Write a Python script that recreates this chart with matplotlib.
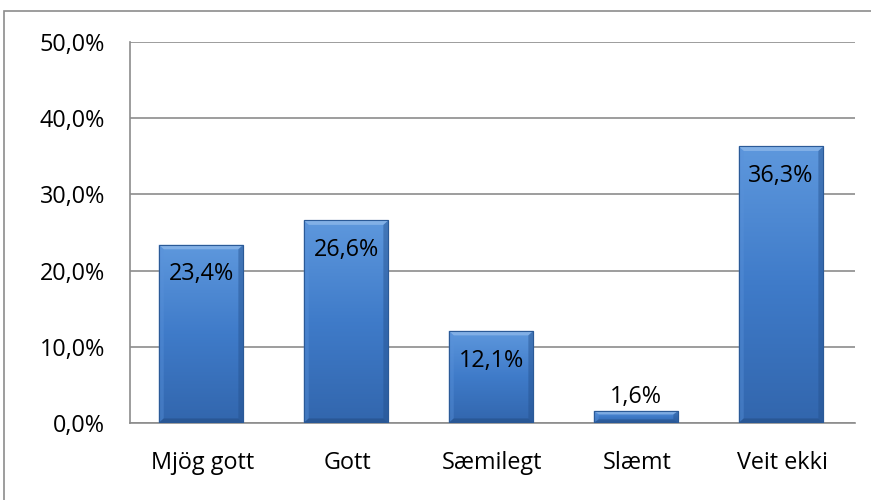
import numpy as np
import matplotlib
matplotlib.use("Agg")
import matplotlib.pyplot as plt
from matplotlib.patches import Rectangle, Polygon
from matplotlib.colors import LinearSegmentedColormap

# chart data
categories = ["Mjög gott", "Gott", "Sæmilegt", "Slæmt", "Veit ekki"]
values = [23.4, 26.6, 12.1, 1.6, 36.3]
yticks = [0, 10, 20, 30, 40, 50]

plt.rcParams['font.family'] = ['Open Sans', 'DejaVu Sans']
FS = 16.8

fig = plt.figure(figsize=(8.71, 5), dpi=100)
ax = fig.add_axes([130 / 871, 1 - 423 / 500, 725 / 871, 381 / 500])

# outer chart border
fig.patches.append(Rectangle((4 / 871, -0.01), 1.0, 1 - 11 / 500 + 0.01,
                             transform=fig.transFigure, fill=False,
                             edgecolor="#8c8c8c", linewidth=1.2))

x = np.arange(len(categories))
width = 0.585
bars = ax.bar(x - 0.01, values, width=width, color="#3f7ccb", edgecolor="#2b5a97",
              linewidth=0.8, zorder=3)

# gradient face + light bevel on each bar
cmap = LinearSegmentedColormap.from_list("bar", ["#5e98dd", "#3f7bc9", "#3266ad"])
grad = np.linspace(0, 1, 256).reshape(-1, 1)
for b in bars:
    x0, w, h = b.get_x(), b.get_width(), b.get_height()
    im = ax.imshow(grad, cmap=cmap, aspect="auto", extent=(x0, x0 + w, 0, h),
                   origin="upper", zorder=3.1)
    im.set_clip_path(b)
    bx = w * 0.06
    by = min(0.6, h * 0.3)
    ax.add_patch(Polygon([(x0, h), (x0 + w, h), (x0 + w - bx, h - by), (x0 + bx, h - by)],
                         closed=True, facecolor="#9cc2ee", edgecolor="none", alpha=0.6, zorder=3.2))
    ax.add_patch(Polygon([(x0, 0), (x0, h), (x0 + bx, h - by), (x0 + bx, by)],
                         closed=True, facecolor="#5a92da", edgecolor="none", alpha=0.4, zorder=3.2))
    ax.add_patch(Polygon([(x0 + w, 0), (x0 + w, h), (x0 + w - bx, h - by), (x0 + w - bx, by)],
                         closed=True, facecolor="#24508c", edgecolor="none", alpha=0.45, zorder=3.2))
    ax.add_patch(Polygon([(x0, 0), (x0 + w, 0), (x0 + w - bx, by), (x0 + bx, by)],
                         closed=True, facecolor="#1f4679", edgecolor="none", alpha=0.45, zorder=3.2))
    ax.add_patch(Rectangle((x0, 0), w, h, fill=False, edgecolor="#2b5a97",
                           linewidth=0.8, zorder=3.3))

# data labels
for xi, v in zip(x, values):
    label = f"{v:.1f}%".replace(".", ",")
    if v < 5:
        ax.text(xi - 0.01, v + 1.8, label, ha="center", va="center", fontsize=FS, zorder=4)
    else:
        ax.text(xi - 0.01, v - 3.9, label, ha="center", va="center", fontsize=FS, zorder=4)

ax.set_xlim(-0.5, len(categories) - 0.5)
ax.set_ylim(0, 50)
ax.set_yticks(yticks)
ax.set_yticklabels([f"{t:.1f}%".replace(".", ",") for t in yticks], fontsize=FS)
ax.set_xticks(x)
ax.set_xticklabels(categories, fontsize=FS)
ax.tick_params(axis="both", length=0)
ax.tick_params(axis="y", pad=18)
ax.tick_params(axis="x", pad=20)

ax.grid(axis="y", color="#8c8c8c", linewidth=1.2, zorder=0)
ax.set_axisbelow(True)
for s in ["top", "right"]:
    ax.spines[s].set_visible(False)
ax.spines["left"].set_color("#8c8c8c")
ax.spines["left"].set_linewidth(1.2)
ax.spines["bottom"].set_color("#8c8c8c")
ax.spines["bottom"].set_linewidth(1.2)

fig.savefig("out.png", dpi=100)
